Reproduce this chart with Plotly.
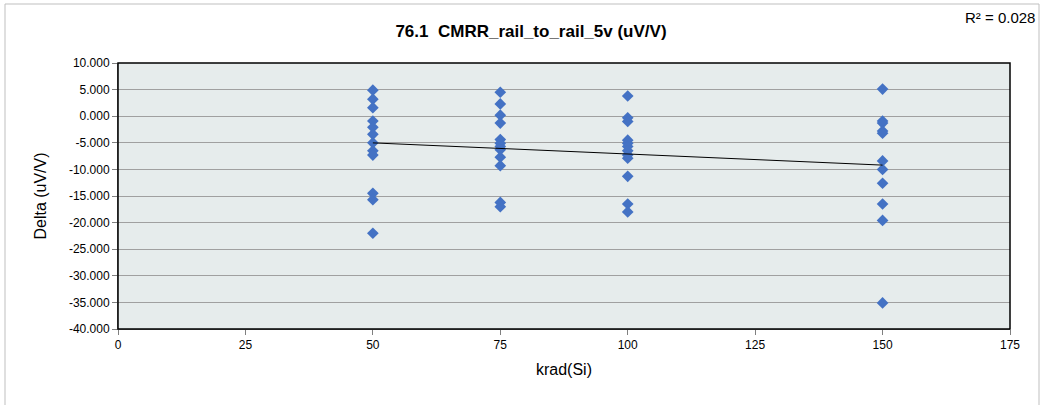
import numpy as np
import plotly.graph_objects as go

# Data
krad_50 = [4.9, 3.2, 1.6, -0.9, -2.1, -3.4, -5.0, -6.5, -7.3, -14.5, -15.7, -22.0]
krad_75 = [4.5, 2.3, 0.2, -1.3, -4.4, -5.1, -5.7, -6.3, -7.7, -9.3, -16.2, -17.0]
krad_100 = [3.8, -0.3, -1.0, -4.5, -5.1, -5.7, -6.5, -7.3, -7.9, -11.3, -16.5, -18.0]
krad_150 = [5.1, -0.9, -1.3, -2.8, -3.2, -8.4, -10.0, -12.6, -16.5, -19.6, -35.1]
dose_levels = [50, 75, 100, 150]
x_ticks = [0, 25, 50, 75, 100, 125, 150, 175]
y_ticks = [10, 5, 0, -5, -10, -15, -20, -25, -30, -35, -40]

series = [krad_50, krad_75, krad_100, krad_150]
xs = np.concatenate([[d] * len(s) for d, s in zip(dose_levels, series)]).astype(float)
ys = np.concatenate(series).astype(float)

slope, intercept = np.polyfit(xs, ys, 1)
fit_x = np.array([min(dose_levels), max(dose_levels)], dtype=float)
fit_y = slope * fit_x + intercept

FONT = "Liberation Sans Narrow, Arial Narrow, Liberation Sans, Arial, sans-serif"

fig = go.Figure()
fig.add_trace(go.Scatter(
    x=xs, y=ys, mode="markers",
    marker=dict(symbol="diamond", size=9, color="#4472C4", line=dict(width=0)),
    showlegend=False, hoverinfo="x+y",
))
fig.add_trace(go.Scatter(
    x=fit_x, y=fit_y, mode="lines",
    line=dict(color="black", width=1),
    showlegend=False, hoverinfo="skip",
))

W, H = 1045, 405
ml, mr, mt, mb = 118, 35, 63, 76
pw, ph = W - ml - mr, H - mt - mb

def px_to_paper_x(px):
    return (px - ml) / pw

def px_to_paper_y(py):
    return 1 - (py - mt) / ph

fig.update_layout(
    width=W, height=H,
    margin=dict(l=ml, r=mr, t=mt, b=mb),
    paper_bgcolor="white",
    plot_bgcolor="#E6ECEC",
    font=dict(family=FONT, size=12, color="black"),
    title=dict(
        text="<b>76.1  CMRR_rail_to_rail_5v (uV/V)</b>",
        x=531 / W, xref="container", xanchor="center",
        y=1 - 31 / H, yanchor="middle", yref="container",
        font=dict(size=17, family=FONT),
    ),
    xaxis=dict(
        range=[0, 175], tickvals=x_ticks, ticktext=[str(v) for v in x_ticks],
        showgrid=False, zeroline=False,
        showline=True, linecolor="#808080", linewidth=1, mirror=False,
        ticks="outside", ticklen=5, tickcolor="#808080",
        title=dict(text="krad(Si)", font=dict(size=16), standoff=12),
        tickfont=dict(size=12),
    ),
    yaxis=dict(
        range=[-40, 10], tickvals=y_ticks,
        ticktext=[f"{v:.3f}" for v in y_ticks],
        showgrid=True, gridcolor="#A0A0A0", gridwidth=1,
        zeroline=False,
        showline=True, linecolor="#808080", linewidth=1,
        ticks="outside", ticklen=5, tickcolor="#808080",
        title=dict(text="Delta (uV/V)", font=dict(size=16), standoff=18),
        tickfont=dict(size=12),
    ),
    shapes=[
        dict(type="rect", xref="paper", yref="paper", x0=0, x1=1, y0=0, y1=1,
             line=dict(color="black", width=1.5), layer="above"),
        dict(type="rect", xref="paper", yref="paper",
             x0=px_to_paper_x(5), x1=px_to_paper_x(1039),
             y0=px_to_paper_y(408), y1=px_to_paper_y(4),
             line=dict(color="#BFBFBF", width=1)),
    ],
    annotations=[
        dict(text="R² = 0.028", xref="paper", yref="paper",
             x=px_to_paper_x(1037), y=px_to_paper_y(17),
             xanchor="right", yanchor="middle", showarrow=False,
             font=dict(size=15, family=FONT)),
    ],
)

fig.write_html(
    "out.html",
    config={"displayModeBar": False},
    post_script="document.body.style.margin='0';document.body.style.overflow='hidden';",
)
